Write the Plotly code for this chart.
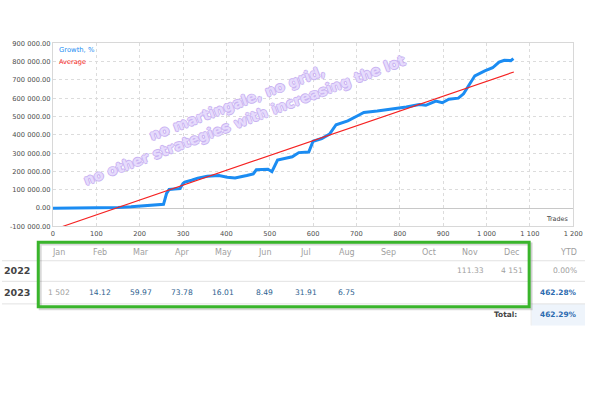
import plotly.graph_objects as go

# growth curve
trades = [0, 60, 124, 150, 180, 214, 221, 240, 255, 262, 268, 280, 293, 300, 304, 320, 334, 356,
          383, 402, 420, 447, 462, 469, 496, 505, 518, 552, 567, 590, 594, 600, 620, 638, 653,
          680, 706, 717, 748, 785, 815, 845, 860, 883, 898, 913, 935, 947, 958, 973, 996, 1014,
          1029, 1041, 1056, 1062]
growth = [0, 0, 0, 4000, 7000, 12000, 14000, 17000, 21000, 80000, 102000, 105000, 107000, 134000,
          142000, 152000, 164000, 174000, 178000, 169000, 164000, 178000, 187000, 209000, 212000,
          199000, 262000, 280000, 303000, 306000, 329000, 365000, 380000, 404000, 455000, 476000,
          508000, 522000, 530000, 540000, 552000, 565000, 561000, 584000, 575000, 594000, 600000,
          624000, 665000, 722000, 749000, 766000, 797000, 807000, 805000, 816000]

avg_x = [22, 1063]
avg_y = [-100000, 743000]

y_ticks = [-100000, 0, 100000, 200000, 300000, 400000, 500000, 600000, 700000, 800000, 900000]
y_labels = ["-100 000.00", "0.00", "100 000.00", "200 000.00", "300 000.00", "400 000.00",
            "500 000.00", "600 000.00", "700 000.00", "800 000.00", "900 000.00"]
x_ticks = [0, 100, 200, 300, 400, 500, 600, 700, 800, 900, 1000, 1100, 1200]
x_labels = ["0", "100", "200", "300", "400", "500", "600", "700", "800", "900",
            "1 000", "1 100", "1 200"]

months = ["Jan", "Feb", "Mar", "Apr", "May", "Jun", "Jul", "Aug", "Sep", "Oct", "Nov", "Dec"]
years = ["2022", "2023"]
values_2022 = ["", "", "", "", "", "", "", "", "", "", "111.33", "4 151"]
values_2023 = ["1 502", "14.12", "59.97", "73.78", "16.01", "8.49", "31.91", "6.75", "", "", "", ""]
ytd = ["0.00%", "462.28%"]
total = "462.29%"

W, H = 595, 400
FONT = "DejaVu Sans"


def px(x):
    return x / W


def py(y):
    return 1 - y / H


fig = go.Figure()
fig.add_trace(go.Scatter(x=trades, y=growth, mode="lines",
                         line=dict(color="#1b8cf2", width=3), name="Growth, %"))
fig.add_trace(go.Scatter(x=avg_x, y=avg_y, mode="lines",
                         line=dict(color="#f52222", width=1.2), name="Average"))

axis_font = dict(family=FONT, size=6.7, color="#4a4a4a")
fig.update_xaxes(domain=[px(52), px(583)], range=[0, 1200], tickvals=x_ticks, ticktext=x_labels,
                 showgrid=True, gridcolor="#dcdcdc", griddash="3px,3px", gridwidth=1,
                 zeroline=False, showline=True, linecolor="#d8d8d8", mirror=True,
                 tickfont=axis_font, ticks="", fixedrange=True)
fig.update_yaxes(domain=[py(227), py(40)], range=[-100000, 900000], tickvals=y_ticks,
                 ticktext=y_labels, showgrid=True, gridcolor="#dcdcdc", griddash="3px,3px",
                 zeroline=True, zerolinecolor="#c8c8c8", zerolinewidth=1,
                 showline=True, linecolor="#d8d8d8", mirror=True,
                 tickfont=axis_font, ticks="", fixedrange=True)

ann = []
# legend-like labels and axis title
ann.append(dict(x=px(56), y=py(47), text="Growth, %", font=dict(family=FONT, size=6.8, color="#1b8cf2")))
ann.append(dict(x=px(56), y=py(59), text="Average", font=dict(family=FONT, size=6.6, color="#f52222")))
ann.append(dict(x=px(580), y=py(219), text="Trades", xanchor="right",
                font=dict(family=FONT, size=6.4, color="#444444")))

# watermark
wm = dict(family=FONT, size=14.3, color="#e6dbfc", weight="bold",
          shadow="1px 0 0 #c9b4f2, -1px 0 0 #c9b4f2, 0 1px 0 #c9b4f2, 0 -1px 0 #c9b4f2")
ann.append(dict(x=px(240), y=py(101), text="no martingale, no grid,", textangle=-20.7,
                xanchor="center", font=wm))
ann.append(dict(x=px(248), y=py(118), text="no other strategies with increasing the lot",
                textangle=-20.7, xanchor="center", font=wm))

# table
col_x = [58 + 42 * i for i in range(12)]
for i, m in enumerate(months):
    ann.append(dict(x=px(col_x[i]), y=py(254), text=m, xanchor="center",
                    font=dict(family=FONT, size=8, color="#a0a0a0")))
ann.append(dict(x=px(589), y=py(254), text="YTD", xanchor="right",
                font=dict(family=FONT, size=8, color="#a0a0a0")))

muted = {("2022", 10), ("2022", 11), ("2023", 0)}
row_y = [272, 294]
for r, (yr, vals) in enumerate(zip(years, [values_2022, values_2023])):
    ann.append(dict(x=px(15), y=py(row_y[r]), text="<b>" + yr + "</b>", xanchor="center",
                    font=dict(family=FONT, size=9.5, color="#444444")))
    for i, v in enumerate(vals):
        if not v:
            continue
        c = "#a0a0a0" if (yr, i) in muted else "#2e5f8f"
        ann.append(dict(x=px(col_x[i]), y=py(row_y[r]), text=v, xanchor="center",
                        font=dict(family=FONT, size=7.6, color=c)))
ann.append(dict(x=px(589), y=py(272), text=ytd[0], xanchor="right",
                font=dict(family=FONT, size=7.6, color="#a0a0a0")))
ann.append(dict(x=px(589), y=py(294), text="<b>" + ytd[1] + "</b>", xanchor="right",
                font=dict(family=FONT, size=7.4, color="#2d6cb0")))
ann.append(dict(x=px(528), y=py(317), text="<b>Total:</b>", xanchor="right",
                font=dict(family=FONT, size=7.4, color="#444444")))
ann.append(dict(x=px(589), y=py(317), text="<b>" + total + "</b>", xanchor="right",
                font=dict(family=FONT, size=7.4, color="#2d6cb0")))

for a in ann:
    a.setdefault("xref", "paper")
    a.setdefault("yref", "paper")
    a.setdefault("xanchor", "left")
    a.setdefault("yanchor", "middle")
    a["showarrow"] = False

shapes = [
    # total cell background
    dict(type="rect", x0=px(540), x1=px(595), y0=py(306), y1=py(328),
         fillcolor="#eef4fb", line=dict(width=0)),
    dict(type="line", x0=px(540), x1=px(540), y0=py(243), y1=py(328),
         line=dict(color="#ececec", width=1)),
    dict(type="line", x0=0, x1=1, y0=py(262), y1=py(262), line=dict(color="#e2e2e2", width=1)),
    dict(type="line", x0=0, x1=1, y0=py(283), y1=py(283), line=dict(color="#e2e2e2", width=1)),
    dict(type="line", x0=0, x1=1, y0=py(306), y1=py(306), line=dict(color="#e2e2e2", width=1)),
    # green box with soft shadow
    dict(type="rect", x0=px(39), x1=px(540), y0=py(245), y1=py(311),
         line=dict(color="rgba(0,0,0,0.15)", width=3)),
    dict(type="rect", x0=px(37), x1=px(538), y0=py(243), y1=py(309),
         line=dict(color="#39b52b", width=3)),
]
for s in shapes:
    s["xref"] = "paper"
    s["yref"] = "paper"

fig.update_layout(
    width=W, height=H, margin=dict(l=0, r=0, t=0, b=0),
    paper_bgcolor="white", plot_bgcolor="white", showlegend=False,
    annotations=ann, shapes=shapes,
)

# page body has a default 8px margin; drop it so the figure sits at the window corner
fig.write_html("out.html", config={"displayModeBar": False},
               post_script="document.body.style.margin='0px';")
